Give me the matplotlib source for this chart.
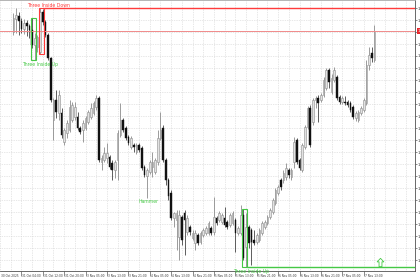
import matplotlib
matplotlib.use("Agg")
import matplotlib.pyplot as plt
import matplotlib.transforms as mtransforms
from matplotlib.patches import Rectangle
from matplotlib.path import Path
import numpy as np

# ---------------- data (EURUSD H1) ----------------
opens = [1.1568, 1.1581, 1.1584, 1.1579, 1.1571, 1.1577, 1.1574, 1.1570, 1.1555, 1.1553,
         1.1548, 1.1588, 1.1578, 1.1565, 1.1542, 1.1480, 1.1500, 1.1487, 1.1487, 1.1458,
         1.1467, 1.1470, 1.1480, 1.1483, 1.1483, 1.1472, 1.1470, 1.1472, 1.1478, 1.1483,
         1.1487, 1.1493, 1.1502, 1.1438, 1.1440, 1.1442, 1.1443, 1.1437, 1.1430, 1.1440,
         1.1465, 1.1480, 1.1472, 1.1463, 1.1453, 1.1455, 1.1448, 1.1455, 1.1452, 1.1433,
         1.1424, 1.1428, 1.1433, 1.1428, 1.1438, 1.1462, 1.1472, 1.1440, 1.1420, 1.1407,
         1.1382, 1.1380, 1.1363, 1.1383, 1.1387, 1.1368, 1.1373, 1.1362, 1.1357, 1.1365,
         1.1358, 1.1365, 1.1367, 1.1367, 1.1372, 1.1368, 1.1382, 1.1380, 1.1378, 1.1382,
         1.1378, 1.1375, 1.1377, 1.1380, 1.1367, 1.1367, 1.1385, 1.1353, 1.1373, 1.1370,
         1.1360, 1.1358, 1.1360, 1.1367, 1.1373, 1.1377, 1.1383, 1.1388, 1.1397, 1.1407,
         1.1420, 1.1420, 1.1423, 1.1430, 1.1423, 1.1438, 1.1460, 1.1440, 1.1430, 1.1453,
         1.1473, 1.1492, 1.1478, 1.1500, 1.1502, 1.1500, 1.1505, 1.1512, 1.1530, 1.1508,
         1.1520, 1.1523, 1.1503, 1.1498, 1.1498, 1.1498, 1.1497, 1.1493, 1.1482, 1.1480,
         1.1487, 1.1490, 1.1497, 1.1535, 1.1547, 1.1540]
highs = [1.1587, 1.1592, 1.1588, 1.1582, 1.1581, 1.1580, 1.1576, 1.1582, 1.1567, 1.1565,
         1.1592, 1.1591, 1.1580, 1.1567, 1.1543, 1.1502, 1.1510, 1.1510, 1.1492, 1.1472,
         1.1480, 1.1500, 1.1498, 1.1498, 1.1488, 1.1474, 1.1480, 1.1484, 1.1490, 1.1497,
         1.1499, 1.1505, 1.1504, 1.1445, 1.1453, 1.1457, 1.1445, 1.1440, 1.1440, 1.1470,
         1.1497, 1.1482, 1.1474, 1.1465, 1.1464, 1.1457, 1.1457, 1.1457, 1.1454, 1.1435,
         1.1432, 1.1440, 1.1448, 1.1442, 1.1470, 1.1488, 1.1475, 1.1442, 1.1422, 1.1410,
         1.1388, 1.1390, 1.1390, 1.1385, 1.1390, 1.1385, 1.1375, 1.1370, 1.1370, 1.1367,
         1.1369, 1.1372, 1.1374, 1.1379, 1.1374, 1.1403, 1.1384, 1.1389, 1.1387, 1.1393,
         1.1380, 1.1387, 1.1389, 1.1382, 1.1374, 1.1395, 1.1391, 1.1387, 1.1375, 1.1372,
         1.1370, 1.1367, 1.1372, 1.1379, 1.1380, 1.1385, 1.1392, 1.1402, 1.1412, 1.1415,
         1.1422, 1.1430, 1.1437, 1.1432, 1.1432, 1.1463, 1.1462, 1.1442, 1.1457, 1.1475,
         1.1494, 1.1495, 1.1502, 1.1504, 1.1505, 1.1507, 1.1523, 1.1532, 1.1532, 1.1526,
         1.1533, 1.1525, 1.1505, 1.1504, 1.1504, 1.1500, 1.1499, 1.1495, 1.1489, 1.1490,
         1.1494, 1.1502, 1.1540, 1.1553, 1.1553, 1.1575]
lows = [1.1565, 1.1567, 1.1565, 1.1567, 1.1566, 1.1564, 1.1562, 1.1552, 1.1540, 1.1548,
        1.1546, 1.1575, 1.1563, 1.1540, 1.1498, 1.1460, 1.1482, 1.1480, 1.1462, 1.1455,
        1.1462, 1.1468, 1.1478, 1.1480, 1.1470, 1.1466, 1.1458, 1.1470, 1.1476, 1.1481,
        1.1485, 1.1490, 1.1438, 1.1430, 1.1438, 1.1437, 1.1431, 1.1420, 1.1422, 1.1420,
        1.1463, 1.1468, 1.1460, 1.1455, 1.1451, 1.1448, 1.1446, 1.1448, 1.1430, 1.1423,
        1.1402, 1.1426, 1.1423, 1.1426, 1.1435, 1.1460, 1.1438, 1.1415, 1.1400, 1.1380,
        1.1373, 1.1350, 1.1340, 1.1355, 1.1345, 1.1365, 1.1365, 1.1360, 1.1350, 1.1355,
        1.1356, 1.1363, 1.1365, 1.1365, 1.1365, 1.1365, 1.1375, 1.1378, 1.1376, 1.1373,
        1.1371, 1.1373, 1.1375, 1.1348, 1.1365, 1.1365, 1.1340, 1.1333, 1.1352, 1.1335,
        1.1355, 1.1356, 1.1358, 1.1365, 1.1371, 1.1375, 1.1381, 1.1386, 1.1395, 1.1405,
        1.1410, 1.1417, 1.1420, 1.1422, 1.1420, 1.1432, 1.1436, 1.1430, 1.1428, 1.1451,
        1.1471, 1.1453, 1.1475, 1.1492, 1.1478, 1.1498, 1.1503, 1.1510, 1.1512, 1.1506,
        1.1518, 1.1500, 1.1496, 1.1496, 1.1495, 1.1493, 1.1488, 1.1481, 1.1479, 1.1478,
        1.1485, 1.1488, 1.1495, 1.1530, 1.1538, 1.1538]
closes = [1.1582, 1.1585, 1.1579, 1.1571, 1.1577, 1.1574, 1.1570, 1.1555, 1.1562, 1.1563,
          1.1588, 1.1578, 1.1565, 1.1542, 1.1500, 1.1500, 1.1488, 1.1505, 1.1465, 1.1470,
          1.1477, 1.1493, 1.1495, 1.1493, 1.1472, 1.1468, 1.1477, 1.1482, 1.1488, 1.1492,
          1.1497, 1.1502, 1.1440, 1.1442, 1.1447, 1.1447, 1.1433, 1.1430, 1.1438, 1.1467,
          1.1480, 1.1470, 1.1462, 1.1457, 1.1462, 1.1453, 1.1455, 1.1450, 1.1432, 1.1425,
          1.1430, 1.1438, 1.1438, 1.1440, 1.1462, 1.1470, 1.1440, 1.1420, 1.1404, 1.1382,
          1.1387, 1.1387, 1.1385, 1.1360, 1.1380, 1.1382, 1.1368, 1.1367, 1.1367, 1.1357,
          1.1367, 1.1370, 1.1372, 1.1377, 1.1367, 1.1383, 1.1377, 1.1387, 1.1385, 1.1375,
          1.1373, 1.1385, 1.1387, 1.1367, 1.1372, 1.1385, 1.1342, 1.1373, 1.1357, 1.1358,
          1.1357, 1.1365, 1.1370, 1.1377, 1.1378, 1.1383, 1.1390, 1.1400, 1.1410, 1.1413,
          1.1413, 1.1427, 1.1432, 1.1425, 1.1430, 1.1458, 1.1438, 1.1432, 1.1455, 1.1473,
          1.1492, 1.1455, 1.1500, 1.1502, 1.1497, 1.1505, 1.1520, 1.1530, 1.1518, 1.1522,
          1.1530, 1.1502, 1.1498, 1.1502, 1.1497, 1.1495, 1.1490, 1.1483, 1.1487, 1.1488,
          1.1492, 1.1500, 1.1535, 1.1545, 1.1542, 1.1568]

time_labels = ["30 Oct 2025", "31 Oct 04:00", "31 Oct 12:00", "31 Oct 20:00",
               "3 Nov 05:00", "3 Nov 13:00", "3 Nov 21:00", "4 Nov 05:00",
               "4 Nov 13:00", "4 Nov 21:00", "5 Nov 05:00", "5 Nov 13:00",
               "5 Nov 21:00", "6 Nov 05:00", "6 Nov 13:00", "6 Nov 21:00",
               "7 Nov 05:00", "7 Nov 13:00"]
first_label_bar = -5
bars_per_label = 8

price_top = 1.1592
price_step = 0.0012

hline_price = 1.1569

pattern_names = ["Three Inside Up", "Three Inside Down", "Three Inside Up"]
pattern_first = [7, 10, 86]
pattern_last = [8, 11, 87]
pattern_kind = ["bull", "bear", "bull"]
pattern_extend = [False, True, True]

hammer_bar = 50
arrow_bar = 137
arrow_price = 1.1338

# ---------------- drawing ----------------
W, H = 420, 280
fig = plt.figure(figsize=(W / 100, H / 100), dpi=100)
fig.patch.set_facecolor("white")
ax = fig.add_axes([0, 9 / H, 415 / W, 271 / H])
ax.set_facecolor("white")

n = len(opens)
o = np.array(opens); h = np.array(highs); l = np.array(lows); c = np.array(closes)
up = c >= o

spacing_px = 2.75
x_left = -2 / spacing_px
x_right = x_left + 415 / spacing_px
ax.set_xlim(x_left, x_right)
ax.set_ylim(1.1329, 1.1600)

# grid
yt = np.round(np.arange(price_top, 1.1329, -price_step), 4)
ax.set_yticks(yt)
label_x = first_label_bar + bars_per_label * np.arange(len(time_labels))
visible_x = label_x[label_x > x_left]
ax.set_xticks(visible_x)
ax.set_xticklabels([])
ax.set_xticks(np.arange(first_label_bar, x_right, bars_per_label / 2), minor=True)
grid_kw = dict(color="#d0d0d0", linewidth=0.5, linestyle=(0, (1, 1.5)))
ax.grid(True, axis="y", which="major", **grid_kw)
ax.grid(True, axis="x", which="both", **grid_kw)
ax.set_axisbelow(True)

# candles
bw = 0.62
for i in range(n):
    if up[i]:
        ax.vlines(i, l[i], h[i], color="#8c8c8c", linewidth=0.6, zorder=2)
        ax.add_patch(Rectangle((i - bw / 2, o[i]), bw, max(c[i] - o[i], 0.00004),
                               facecolor="#e2e2e2", edgecolor="#8c8c8c",
                               linewidth=0.4, zorder=3))
    else:
        ax.vlines(i, l[i], h[i], color="#444444", linewidth=0.6, zorder=2)
        ax.add_patch(Rectangle((i - bw / 2, c[i]), bw, max(o[i] - c[i], 0.00004),
                               facecolor="#111111", edgecolor="#111111",
                               linewidth=0.3, zorder=3))

# horizontal level line
ax.axhline(hline_price, color="#f08a8a", linewidth=0.7, zorder=4)

# patterns
green = "#45c845"
red = "#ff3b3b"
for name, a, b, kind, ext in zip(pattern_names, pattern_first, pattern_last,
                                  pattern_kind, pattern_extend):
    top = h[a:b + 1].max()
    bot = l[a:b + 1].min()
    col = green if kind == "bull" else red
    ax.add_patch(Rectangle((a - 0.5, bot), b - a + 1, top - bot, fill=False,
                           edgecolor=col, linewidth=0.8, zorder=5))
    if ext:
        level = bot if kind == "bull" else top
        ax.plot([b + 0.5, x_right], [level, level], color=col, linewidth=1.0,
                zorder=5, solid_capstyle="butt")
    cx = (a + b) / 2 + 2.5
    if kind == "bull":
        ax.text(cx, bot - 0.0002, name, color=green, fontsize=3.3, ha="center",
                va="top", zorder=6)
    else:
        ax.text(cx, top + 0.00003, name, color=red, fontsize=3.3, ha="center",
                va="bottom", zorder=6)

ax.text(hammer_bar + 0.5, l[hammer_bar] - 0.0001, "Hammer", color=green,
        fontsize=3.3, ha="center", va="top", zorder=6)

arrow_path = Path([(0, 1), (-0.8, 0.15), (-0.35, 0.15), (-0.35, -1), (0.35, -1),
                   (0.35, 0.15), (0.8, 0.15), (0, 1)], closed=True)
ax.plot([arrow_bar], [arrow_price], marker=arrow_path, markersize=6,
        markerfacecolor="white", markeredgecolor=green, markeredgewidth=0.6,
        zorder=6)

# axes styling
ax.spines["left"].set_visible(False)
ax.spines["top"].set_color("#a8a8a8")
ax.spines["top"].set_linewidth(1.2)
ax.spines["bottom"].set_color("#505050")
ax.spines["bottom"].set_linewidth(0.6)
ax.spines["right"].set_color("#505050")
ax.spines["right"].set_linewidth(0.6)

ax.yaxis.tick_right()
ax.set_yticklabels([f"{v:.5f}" for v in yt])
ax.tick_params(axis="y", which="major", labelsize=2.8, length=1.2, width=0.4,
               pad=0.6, colors="#333333")
ax.tick_params(axis="x", which="major", length=3.5, width=0.4, colors="#333333")
ax.tick_params(axis="x", which="minor", length=0)

# time labels, left-aligned after each separator (MetaTrader style)
lab_trans = mtransforms.blended_transform_factory(ax.transData, ax.transAxes) + \
    mtransforms.ScaledTranslation(1.0 / 100, -5.0 / 100, fig.dpi_scale_trans)
for xv, txt in zip(label_x, time_labels):
    ax.text(xv, 0, txt, transform=lab_trans, fontsize=2.1, color="#333333",
            ha="left", va="center", clip_on=False)

# price tag of the level line on the right scale
ax.annotate(f"{hline_price:.5f}", xy=(1.0, hline_price),
            xycoords=("axes fraction", "data"), xytext=(1.5, 0),
            textcoords="offset points", fontsize=2.8, color="white",
            va="center", ha="left", annotation_clip=False,
            bbox=dict(boxstyle="square,pad=0.15", fc="#e8262b", ec="none"))

fig.savefig("out.png", dpi=100)
